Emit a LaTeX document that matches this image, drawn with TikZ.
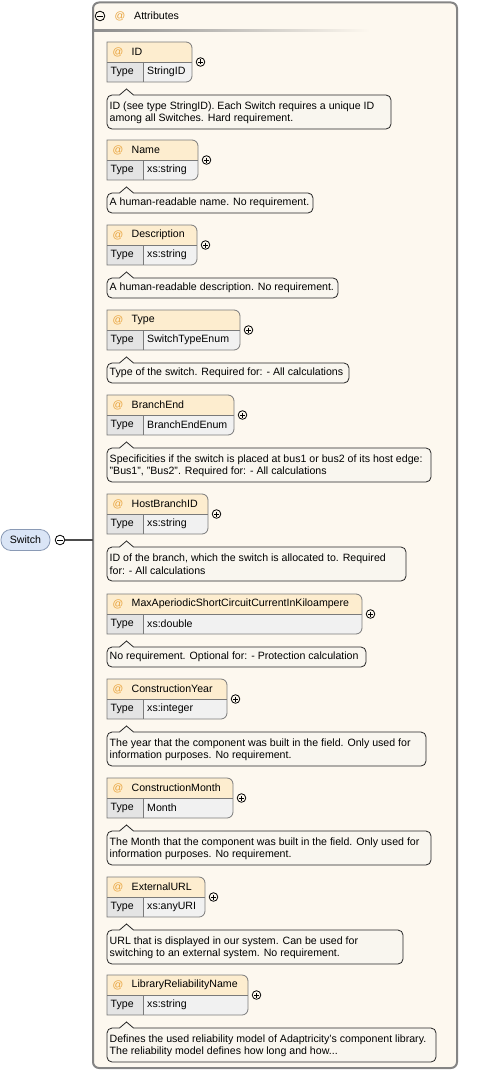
\documentclass[tikz,border=0pt]{standalone}
\usepackage{fontspec}
\setmainfont{Liberation Sans}
\definecolor{cont}{HTML}{FDF8EF}
\definecolor{contline}{HTML}{858585}
\definecolor{hdr}{HTML}{FDEDCF}
\definecolor{tcell}{HTML}{E4E4E4}
\definecolor{vcell}{HTML}{F1F1F1}
\definecolor{boxline}{HTML}{7A7A7A}
\definecolor{descfill}{HTML}{F9F6EF}
\definecolor{atcol}{HTML}{E8A33C}
\definecolor{swfill}{HTML}{DAE5F6}
\definecolor{swline}{HTML}{8A9AB5}
\tikzset{
  txt/.style={inner sep=0pt, font=\fontsize{10.6}{12}\selectfont, text=black},
  atsign/.style={inner sep=0pt, font=\fontsize{10.6}{12}\selectfont, text=atcol},
  boxborder/.style={draw=boxline, line width=0.8pt},
  descbox/.style={draw=black!85, fill=descfill, line width=0.8pt},
  iconline/.style={draw=black, line width=0.8pt},
}
\newcommand\attr[8]{%
  \begin{scope}
    \clip (107,#2) -- ({#3-6},#2) arc[start angle=90,end angle=0,radius=6pt] -- (#3,{#2+34}) arc[start angle=0,end angle=-90,radius=6pt] -- (107,{#2+40}) -- cycle;
    \fill[hdr] (107,#2) rectangle (#3,{#2+20});
    \fill[tcell] (107,{#2+20}) rectangle (143,{#2+40});
    \fill[vcell] (143,{#2+20}) rectangle (#3,{#2+40});
  \end{scope}
  \draw[boxborder] (107,#2) -- ({#3-6},#2) arc[start angle=90,end angle=0,radius=6pt] -- (#3,{#2+34}) arc[start angle=0,end angle=-90,radius=6pt] -- (107,{#2+40}) -- cycle;
  \draw[boxborder] (107,{#2+20}) -- (#3,{#2+20});
  \draw[boxborder] (143,{#2+20}) -- (143,{#2+40});
  \node[atsign] (at#1) at (118,{#2+10}) {@};
  \node[txt, anchor=west] (n#1) at (131.5,{#2+10}) {#4};
  \node[txt, anchor=west] (t#1) at (110.5,{#2+30}) {Type};
  \node[txt, anchor=west] (v#1) at (147,{#2+30}) {#5};
  \draw[iconline] ({#3+8.5},{#2+20}) circle[radius=4.3pt];
  \draw[iconline] ({#3+6},{#2+20}) -- ({#3+11},{#2+20});
  \draw[iconline] ({#3+8.5},{#2+17.5}) -- ({#3+8.5},{#2+22.5});
  \if\relax\detokenize{#8}\relax
    \draw[descbox] (119.5,{#2+53}) -- (126.5,{#2+47}) -- (133.5,{#2+53}) -- ({#6-5},{#2+53}) arc[start angle=90,end angle=0,radius=5pt] -- (#6,{#2+68}) arc[start angle=0,end angle=-90,radius=5pt] -- (112,{#2+73}) arc[start angle=-90,end angle=-180,radius=5pt] -- (107,{#2+58}) arc[start angle=180,end angle=90,radius=5pt] -- cycle;
    \node[txt, anchor=west] (d#1) at (109.5,{#2+63}) {#7};
  \else
    \draw[descbox] (119.5,{#2+53}) -- (126.5,{#2+47}) -- (133.5,{#2+53}) -- ({#6-5},{#2+53}) arc[start angle=90,end angle=0,radius=5pt] -- (#6,{#2+82}) arc[start angle=0,end angle=-90,radius=5pt] -- (112,{#2+87}) arc[start angle=-90,end angle=-180,radius=5pt] -- (107,{#2+58}) arc[start angle=180,end angle=90,radius=5pt] -- cycle;
    \node[txt, anchor=west] (d#1) at (109.5,{#2+64.5}) {#7};
    \node[txt, anchor=west] (e#1) at (109.5,{#2+76.5}) {#8};
  \fi
}
\begin{document}
\begin{tikzpicture}[x=1pt,y=-1pt]
\useasboundingbox (0,0) rectangle (477,1073);
% container
\draw[fill=cont, draw=contline, line width=2pt, rounded corners=6pt] (93,2.5) rectangle (457,1068);
\node[inner sep=0pt, minimum width=364pt, minimum height=1065pt] (cont) at (275,535) {};
% header
\draw[iconline] (100,16) circle[radius=4.8pt];
\draw[iconline] (97.3,16) -- (102.7,16);
\node[atsign] (hat) at (120,16) {@};
\node[txt, anchor=west] (hattr) at (134,16) {Attributes};
\shade[left color=black!45, right color=cont] (94,29.5) rectangle (370,31.5);
% switch node
\node[draw=swline, fill=swfill, line width=0.8pt, rounded corners=10pt, minimum width=49pt, minimum height=21pt, inner sep=0pt, font=\fontsize{10.6}{12}\selectfont] (sw) at (25.5,540) {Switch};
\node[circle, draw=black, line width=0.8pt, minimum size=9.6pt, inner sep=0pt] (swm) at (60,540) {};
\draw[iconline] (57.3,540) -- (62.7,540);
\draw[draw=black!70, line width=1.8pt] (swm.east) -- (cont.west |- swm.east);
% attributes
\attr{1}{42}{192}{ID}{StringID}{391}{ID (see type StringID). Each Switch requires a unique ID}{among all Switches. Hard requirement.}
\attr{2}{140}{198}{Name}{xs:string}{313}{A human-readable name. No requirement.}{}
\attr{3}{225}{197}{Description}{xs:string}{338}{A human-readable description. No requirement.}{}
\attr{4}{310}{240}{Type}{SwitchTypeEnum}{349}{Type of the switch. Required for: - All calculations}{}
\attr{5}{395}{234}{BranchEnd}{BranchEndEnum}{431}{Specificities if the switch is placed at bus1 or bus2 of its host edge:}{"Bus1", "Bus2". Required for: - All calculations}
\attr{6}{494}{208}{HostBranchID}{xs:string}{406}{ID of the branch, which the switch is allocated to. Required}{for: - All calculations}
\attr{7}{594}{362}{MaxAperiodicShortCircuitCurrentInKiloampere}{xs:double}{366}{No requirement. Optional for: - Protection calculation}{}
\attr{8}{679}{227}{ConstructionYear}{xs:integer}{426}{The year that the component was built in the field. Only used for}{information purposes. No requirement.}
\attr{9}{778}{233}{ConstructionMonth}{Month}{431}{The Month that the component was built in the field. Only used for}{information purposes. No requirement.}
\attr{10}{877}{205}{ExternalURL}{xs:anyURI}{403}{URL that is displayed in our system. Can be used for}{switching to an external system. No requirement.}
\attr{11}{975}{248}{LibraryReliabilityName}{xs:string}{436}{Defines the used reliability model of Adaptricity's component library.}{The reliability model defines how long and how...}
\end{tikzpicture}
\end{document}
